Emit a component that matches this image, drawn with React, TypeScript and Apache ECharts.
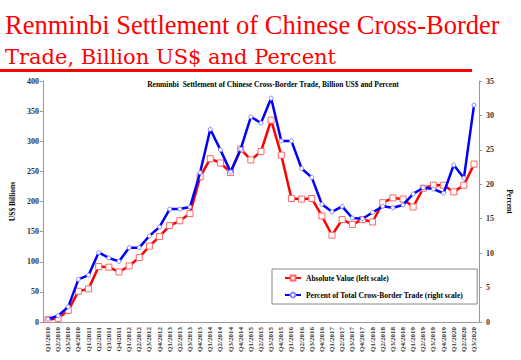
import React, { useEffect, useRef } from "react";
import * as echarts from "echarts";

const quarters: string[] = [];
for (let y = 2010; y <= 2020; y++) {
  for (let q = 1; q <= 4; q++) {
    if (y === 2020 && q > 3) break;
    quarters.push(`Q${q}/${y}`);
  }
}

const absoluteValue = [
  4, 6, 19, 51, 55, 92, 91, 83, 93, 107, 126, 142, 160, 168, 180, 241, 271, 264, 248, 287, 269,
  283, 335, 277, 205, 204, 205, 176, 144, 170, 162, 170, 166, 198, 206, 204, 191, 222, 227, 227,
  216, 227, 262,
];

const percentOfTotal = [
  0.4, 0.9, 2.2, 6.2, 6.8, 10.1, 9.3, 8.8, 10.8, 10.8, 12.5, 13.8, 16.4, 16.4, 16.7, 21.7, 28.0,
  25.0, 21.8, 25.1, 29.8, 28.9, 32.5, 26.3, 26.3, 22.3, 21.0, 17.1, 16.0, 16.8, 15.1, 15.0, 15.9,
  16.8, 16.6, 17.0, 18.6, 19.5, 19.3, 18.7, 22.8, 20.9, 31.5,
];

const titleLines = ["Renminbi Settlement of Chinese Cross-Border", "Trade, Billion US$ and Percent"];

const leftTicks = { min: 0, max: 400, interval: 50 };
const rightTicks = { min: 0, max: 35, interval: 5 };

const serif = "Times New Roman";

export default function App() {
  const ref = useRef<HTMLDivElement>(null);
  useEffect(() => {
    if (!ref.current) return;
    const chart = echarts.init(ref.current, undefined, { renderer: "svg" });
    const axisLabelStyle = {
      fontFamily: serif,
      fontWeight: "bold" as const,
      fontSize: 8,
      color: "#333",
    };
    chart.setOption({
      animation: false,
      backgroundColor: "#fff",
      title: [
        {
          text: "Renminbi  Settlement of Chinese Cross-Border Trade, Billion US$ and Percent",
          left: 268,
          top: 75,
          textAlign: "center",
          textStyle: {
            fontFamily: serif,
            fontWeight: "bold",
            fontSize: 7.5,
            color: "#000",
          },
        },
      ],
      graphic: [
        {
          type: "text",
          x: 5,
          y: 9,
          style: {
            text: titleLines[0],
            fontFamily: "Times New Roman",
            fontWeight: "normal",
            fontSize: 26.5,
            lineHeight: 31,
            fill: "#ff0000",
            verticalAlign: "top",
          },
        },
        {
          type: "text",
          x: 5,
          y: 67,
          style: {
            text: titleLines[1],
            fontFamily: "DejaVu Serif",
            fontWeight: "normal",
            fontSize: 21,
            fill: "#ff0000",
            verticalAlign: "bottom",
          },
        },
        {
          type: "rect",
          shape: { x: 0, y: 69, width: 472, height: 3 },
          style: { fill: "#ff0000" },
        },
      ],
      grid: { left: 26, right: 19, top: 81, bottom: 38 },
      legend: {
        orient: "vertical",
        left: 272,
        top: 269,
        padding: [5, 14, 5, 12],
        itemGap: 9,
        itemWidth: 16,
        itemHeight: 6,
        borderColor: "#888",
        borderWidth: 1,
        backgroundColor: "#fff",
        textStyle: { fontFamily: serif, fontWeight: "bold", fontSize: 7.5, color: "#000" },
        data: ["Absolute Value (left scale)", "Percent of Total Cross-Border Trade (right scale)"],
      },
      xAxis: {
        type: "category",
        data: quarters,
        boundaryGap: true,
        axisLine: { lineStyle: { color: "#999" } },
        axisTick: { alignWithLabel: true, length: 3, lineStyle: { color: "#999" } },
        axisLabel: {
          interval: 0,
          rotate: 90,
          margin: 5,
          fontFamily: serif,
          fontWeight: "bold",
          fontSize: 7,
          color: "#333",
        },
      },
      yAxis: [
        {
          type: "value",
          ...leftTicks,
          name: "US$ Billions",
          nameLocation: "middle",
          nameRotate: 90,
          nameGap: 16,
          nameTextStyle: { fontFamily: serif, fontWeight: "bold", fontSize: 7.5, color: "#000" },
          splitLine: { show: false },
          axisLine: { show: true, lineStyle: { color: "#999" } },
          axisTick: { show: true, length: 3, lineStyle: { color: "#999" } },
          axisLabel: { ...axisLabelStyle, margin: 4 },
        },
        {
          type: "value",
          ...rightTicks,
          name: "Percent",
          nameLocation: "middle",
          nameRotate: -90,
          nameGap: 12,
          nameTextStyle: { fontFamily: serif, fontWeight: "bold", fontSize: 7.5, color: "#000" },
          splitLine: { show: false },
          axisLine: { show: true, lineStyle: { color: "#999" } },
          axisTick: { show: true, length: 3, lineStyle: { color: "#999" } },
          axisLabel: { ...axisLabelStyle, margin: 7 },
        },
      ],
      series: [
        {
          name: "Absolute Value (left scale)",
          type: "line",
          yAxisIndex: 0,
          data: absoluteValue,
          symbol: "rect",
          symbolSize: 6,
          color: "#ff0000",
          lineStyle: { color: "#ff0000", width: 2.5 },
          itemStyle: { color: "#fff", borderColor: "#ff6666", borderWidth: 1 },
          z: 2,
        },
        {
          name: "Percent of Total Cross-Border Trade (right scale)",
          type: "line",
          yAxisIndex: 1,
          data: percentOfTotal,
          symbol: "circle",
          symbolSize: 4,
          color: "#0000ff",
          lineStyle: { color: "#0000ff", width: 2.5 },
          itemStyle: { color: "#fff", borderColor: "#8888ff", borderWidth: 1 },
          z: 3,
        },
      ],
    });
    return () => chart.dispose();
  }, []);
  return <div ref={ref} style={{ width: 521, height: 360, position: "absolute", left: 0, top: 0 }} />;
}
